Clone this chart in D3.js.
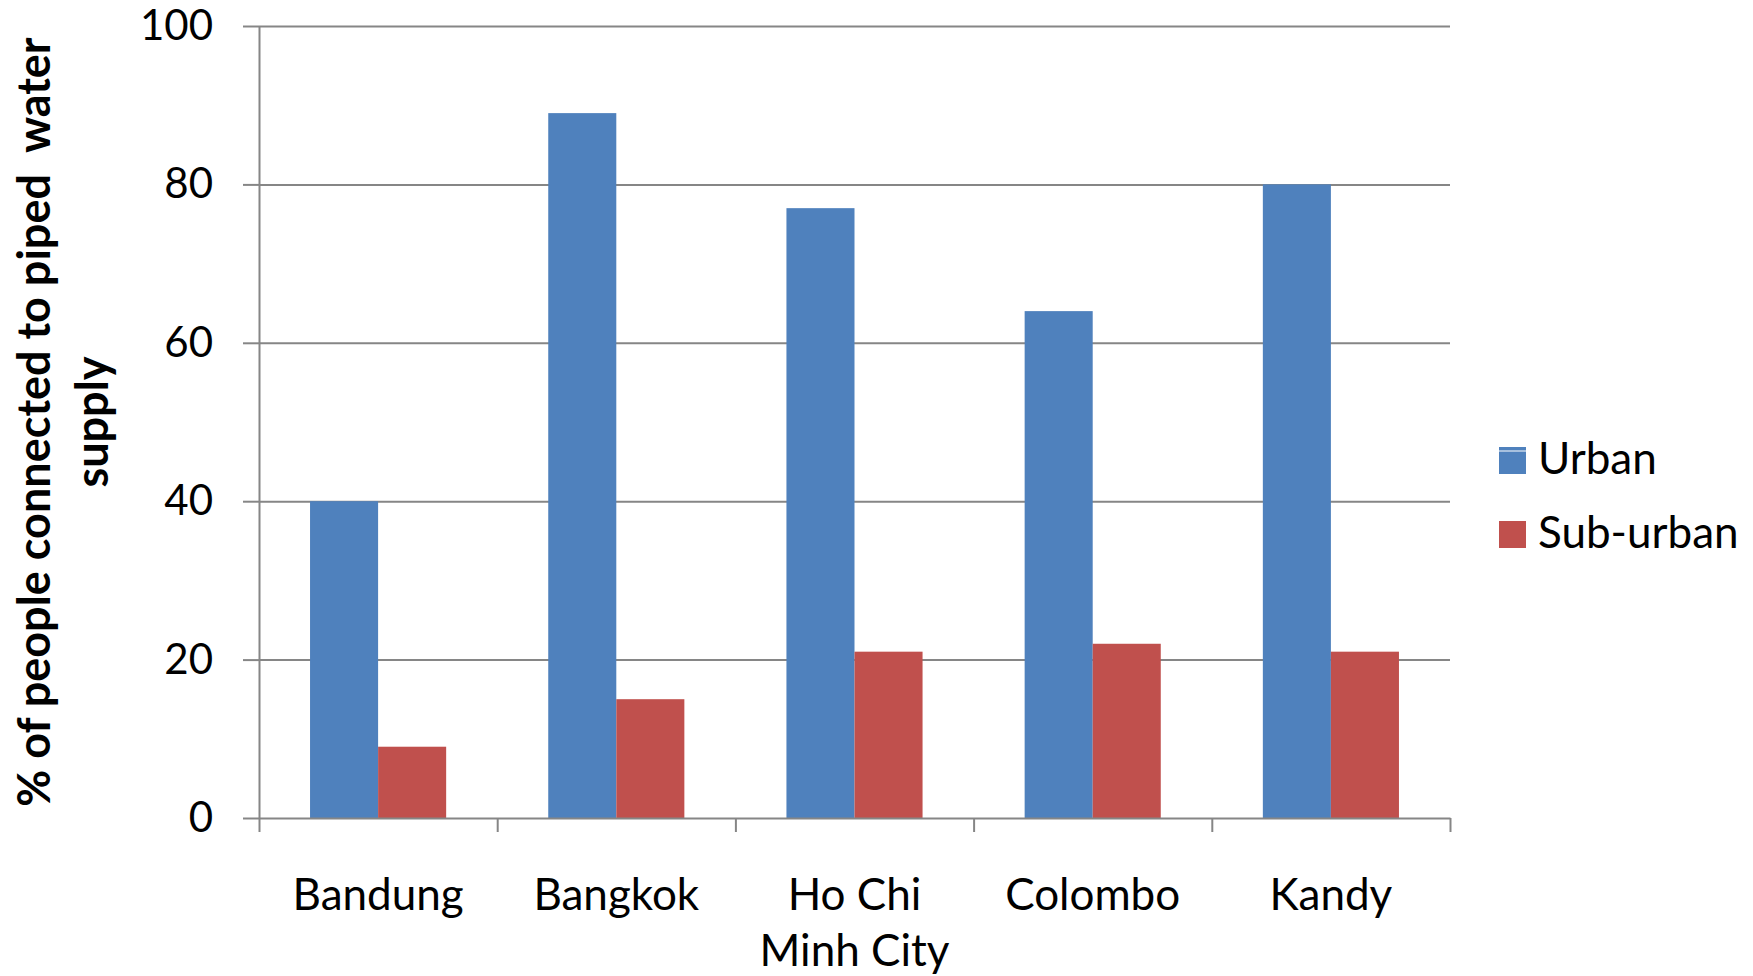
<!DOCTYPE html>
<html>
<head>
<meta charset="utf-8">
<script src="https://cdn.jsdelivr.net/npm/d3@7"></script>
<style>
  html, body { margin: 0; padding: 0; background: #fff; }
  svg { display: block; }
  text { font-family: Lato, "Open Sans", sans-serif; fill: #000; }
</style>
</head>
<body>
<script>
const categories = ["Bandung", "Bangkok", "Ho Chi Minh City", "Colombo", "Kandy"];
const categoryLines = [["Bandung"], ["Bangkok"], ["Ho Chi", "Minh City"], ["Colombo"], ["Kandy"]];
const seriesNames = ["Urban", "Sub-urban"];
const urbanValues = [40, 89, 77, 64, 80];
const suburbanValues = [9, 15, 21, 22, 21];
const yTickValues = [0, 20, 40, 60, 80, 100];
const yTitleLines = ["% of people connected to piped  water", "supply"];
const colors = ["#4F81BD", "#C0504D"];

const W = 1753, H = 976;
const plot = { left: 259, right: 1450, top: 26, bottom: 818 };

const svg = d3.select("body").append("svg").attr("width", W).attr("height", H);

const x0 = d3.scaleBand().domain(categories).range([plot.left, plot.right]).paddingInner(0).paddingOuter(0);
const x1 = d3.scaleBand().domain(seriesNames).range([0, x0.bandwidth()]).paddingInner(0).paddingOuter(0.75);
const y = d3.scaleLinear().domain([0, 100]).range([plot.bottom, plot.top]);
const color = d3.scaleOrdinal().domain(seriesNames).range(colors);

// gridlines
svg.append("g")
  .attr("transform", `translate(${plot.left},0)`)
  .call(d3.axisLeft(y).tickValues(yTickValues.filter(v => v > 0)).tickSize(-(plot.right - plot.left)).tickFormat(""))
  .call(g => g.select(".domain").remove())
  .call(g => g.selectAll("line").attr("stroke", "#868686").attr("stroke-width", 2));

// bars
const rows = categories.map((c, i) => ({ cat: c, values: [urbanValues[i], suburbanValues[i]] }));
const groups = svg.append("g").selectAll("g").data(rows).join("g")
  .attr("transform", d => `translate(${x0(d.cat)},0)`);
groups.selectAll("rect").data(d => seriesNames.map((s, j) => ({ s, v: d.values[j] }))).join("rect")
  .attr("x", d => x1(d.s))
  .attr("width", x1.bandwidth())
  .attr("y", d => y(d.v))
  .attr("height", d => y(0) - y(d.v))
  .attr("fill", d => color(d.s));

// y axis
svg.append("g")
  .attr("transform", `translate(${plot.left},0)`)
  .call(d3.axisLeft(y).tickValues(yTickValues).tickSize(16).tickPadding(30).tickSizeOuter(0))
  .call(g => g.select(".domain").attr("stroke", "#868686").attr("stroke-width", 2))
  .call(g => g.selectAll("line").attr("stroke", "#868686").attr("stroke-width", 2))
  .call(g => g.selectAll("text").attr("font-size", 42).attr("font-family", "Lato").attr("fill", "#000"));

// x axis (ticks at category boundaries)
const xb = d3.scaleLinear().domain([0, categories.length]).range([plot.left, plot.right]);
svg.append("g")
  .attr("transform", `translate(0,${plot.bottom})`)
  .call(d3.axisBottom(xb).tickValues(d3.range(categories.length + 1)).tickSize(14).tickFormat("").tickSizeOuter(0))
  .call(g => g.select(".domain").attr("stroke", "#868686").attr("stroke-width", 2))
  .call(g => g.selectAll("line").attr("stroke", "#868686").attr("stroke-width", 2));

// category labels
const catLabels = svg.append("g").selectAll("text").data(categories).join("text")
  .attr("x", d => x0(d) + x0.bandwidth() / 2)
  .attr("y", 910)
  .attr("text-anchor", "middle")
  .attr("font-size", 44);
catLabels.each(function(d, i) {
  const t = d3.select(this);
  categoryLines[i].forEach((line, k) => {
    t.append("tspan").attr("x", x0(d) + x0.bandwidth() / 2).attr("dy", k === 0 ? 0 : 56).text(line);
  });
});

// y title
const yCenter = (plot.top + plot.bottom) / 2;
const titleBaselines = [50, 108];
yTitleLines.forEach((line, k) => {
  svg.append("text")
    .attr("transform", `translate(${titleBaselines[k]},${yCenter}) rotate(-90)`)
    .attr("text-anchor", "middle")
    .attr("font-weight", "bold")
    .attr("font-size", 45)
    .style("white-space", "pre")
    .text(line);
});

// legend
const legendY = [447, 521];
const legend = svg.append("g").selectAll("g").data(seriesNames).join("g")
  .attr("transform", (d, i) => `translate(1499,${legendY[i]})`);
legend.append("rect").attr("width", 27).attr("height", 27).attr("fill", d => color(d));
legend.filter((d, i) => i === 0).append("line")
  .attr("x1", 0).attr("x2", 27).attr("y1", 4).attr("y2", 4).attr("stroke", "#fff").attr("stroke-width", 1);
legend.append("text").attr("x", 39).attr("y", 27).attr("font-size", 44).text(d => d);
</script>
</body>
</html>
